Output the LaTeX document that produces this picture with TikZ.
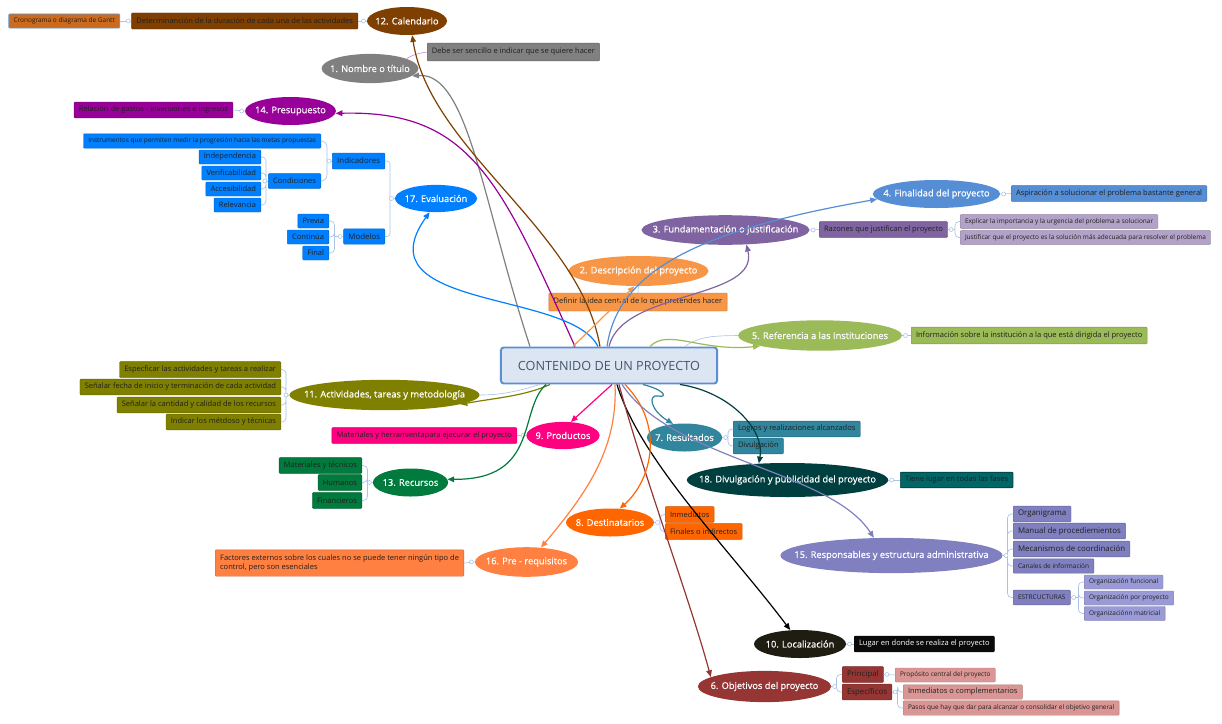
\documentclass[tikz,border=0pt]{standalone}
\usepackage{fontspec}
\setmainfont{Open Sans}
\newfontfamily\topicfam[FakeBold=0.5]{Open Sans}
\usetikzlibrary{positioning,shapes,arrows.meta,calc}

\definecolor{colCal}{HTML}{7F3F00}
\definecolor{colGantt}{HTML}{CC6A1E}
\definecolor{colSel}{HTML}{5B9BD5}
\definecolor{colNom}{HTML}{808080}
\definecolor{colNomL}{HTML}{D68AD6}
\definecolor{colPres}{HTML}{990099}
\definecolor{colEva}{HTML}{0080FF}
\definecolor{colFin}{HTML}{558ED5}
\definecolor{colFun}{HTML}{8064A2}
\definecolor{colFunL}{HTML}{B3A2C7}
\definecolor{colDes}{HTML}{F79646}
\definecolor{colRef}{HTML}{9BBB59}
\definecolor{colAct}{HTML}{808000}
\definecolor{colPro}{HTML}{FF0080}
\definecolor{colRes}{HTML}{31859C}
\definecolor{colDiv}{HTML}{003F3F}
\definecolor{colDivL}{HTML}{006666}
\definecolor{colRec}{HTML}{007A3D}
\definecolor{colDst}{HTML}{FF6600}
\definecolor{colPre}{HTML}{FF8040}
\definecolor{colRsp}{HTML}{8080C0}
\definecolor{colRspL}{HTML}{9A9AD6}
\definecolor{colLoc}{HTML}{1F1C12}
\definecolor{colLug}{HTML}{0A0A0A}
\definecolor{colObj}{HTML}{963634}
\definecolor{colObjL}{HTML}{DA9694}
\definecolor{colMain}{HTML}{DCE6F2}
\definecolor{colMainB}{HTML}{5B8ED3}
\definecolor{colMainT}{HTML}{44546A}
\definecolor{colLink}{HTML}{A9C4E6}
\definecolor{colText}{HTML}{202020}

\newcommand{\fntmain}{\fontsize{9}{10.5}\selectfont}
\newcommand{\fnttopic}{\topicfam\fontsize{6.6}{7.5}\selectfont}
\newcommand{\fntmid}{\fontsize{5.6}{6.5}\selectfont}
\newcommand{\fntsmall}{\fontsize{5.35}{6.6}\selectfont}
\newcommand{\fnttiny}{\fontsize{4.6}{5.4}\selectfont}
% topic text kept out of the ellipse size
\newcommand{\tp}[1]{\makebox[0pt]{#1}}

% collapse knobs beside a parent
\newcommand{\knobR}[1]{\draw[knob] ([xshift=0.08cm]#1.east) circle (0.05cm);}
\newcommand{\knobL}[1]{\draw[knob] ([xshift=-0.08cm]#1.west) circle (0.05cm);}

\tikzset{
  topic/.style 2 args={ellipse, fill=#1, text=white, font=\fnttopic, inner sep=0pt, minimum width=#2, minimum height=0.7cm},
  leaf/.style={rectangle, rounded corners=0.6pt, fill=#1, draw=#1!80!black, line width=0.3pt, text=colText, font=\fntsmall, inner xsep=3.4pt, inner ysep=0pt, minimum height=0.39cm},
  link/.style={draw=colLink, line width=0.45pt},
  knob/.style={draw=colLink, fill=white, line width=0.4pt},
  branch/.style={line width=0.85pt, -{Triangle[length=0.17cm,width=0.14cm]}},
}

\begin{document}
\begin{tikzpicture}[x=0.025cm, y=-0.025cm]
    \useasboundingbox (0,0) rectangle (1222,723);
    \fill[white] (0,0) rectangle (1222,723);

    % Central topic
    \node (main) [draw=colMainB, line width=1.4pt, fill=colMain, rounded corners=2pt, text=colMainT, font=\fntmain, minimum width=5.4cm, minimum height=0.9cm] at (609,365.5) {CONTENIDO DE UN PROYECTO};

    % 12. Calendario
    \node (calendario) [topic={colCal}{2cm}] at (407,21) {\tp{12. Calendario}};
    \node (duracion) [leaf=colCal, anchor=east, minimum height=0.4cm] at (358,21) {Determinanción de la duración de cada una de las actividades};
    \node (gantt) [leaf=colGantt, draw=colSel, line width=0.6pt, anchor=east, font=\fnttiny, minimum height=0.35cm] at (120,21) {Cronograma o diagrama de Gantt};

    % 1. Nombre o titulo
    \node (nombre) [topic={colNom}{2.42cm}, minimum height=0.73cm] at (370,68.5) {\tp{1. Nombre o título}};
    \node (sencillo) [leaf=colNom, anchor=west, minimum height=0.44cm] at (427,52) {Debe ser sencillo e indicar que se quiere hacer};

    % 14. Presupuesto
    \node (presupuesto) [topic={colPres}{2.27cm}] at (290.5,111) {\tp{14. Presupuesto}};
    \node (gastos) [leaf=colPres, anchor=east] at (233,110) {Relación de gastos - inversiones e ingresos};

    % 17. Evaluacion
    \node (evaluacion) [topic={colEva}{2.05cm}, minimum height=0.68cm] at (436,198.5) {\tp{17. Evaluación}};
    \node (indicadores) [leaf=colEva, anchor=east, font=\fntmid, minimum height=0.4cm] at (385,161) {Indicadores};
    \node (instrumentos) [leaf=colEva, anchor=east, font=\fnttiny, minimum height=0.36cm] at (321,141) {Instrumentos que permiten medir la progresión hacia las metas propuestas};
    \node (condiciones) [leaf=colEva, anchor=east, minimum height=0.37cm] at (321,181) {Condiciones};
    \node (independencia) [leaf=colEva, anchor=east, minimum height=0.35cm] at (261,157) {Independencia};
    \node (verificabilidad) [leaf=colEva, anchor=east, minimum height=0.35cm] at (261,173) {Verificabilidad};
    \node (accesibilidad) [leaf=colEva, anchor=east, minimum height=0.35cm] at (261,189) {Accesibilidad};
    \node (relevancia) [leaf=colEva, anchor=east, minimum height=0.35cm] at (261,205) {Relevancia};
    \node (modelos) [leaf=colEva, anchor=east, font=\fntmid, minimum height=0.38cm] at (385,236.5) {Modelos};
    \node (previa) [leaf=colEva, anchor=east, minimum height=0.35cm] at (329,221) {Previa};
    \node (continua) [leaf=colEva, anchor=east, minimum height=0.35cm] at (329,237) {Continúa};
    \node (final) [leaf=colEva, anchor=east, minimum height=0.35cm] at (329,253) {Final};

    % 4. Finalidad
    \node (finalidad) [topic={colFin}{3.18cm}] at (936.5,194) {\tp{4. Finalidad del proyecto}};
    \node (aspiracion) [leaf=colFin, anchor=west] at (1011,193.5) {Aspiración a solucionar el problema bastante general};

    % 3. Fundamentacion
    \node (fundamentacion) [topic={colFun}{4.2cm}, minimum height=0.74cm] at (725.5,230) {\tp{3. Fundamentación o justificación}};
    \node (razones) [leaf=colFun, anchor=west] at (819,229.5) {Razones que justifican el proyecto};
    \node (importancia) [leaf=colFunL, anchor=west, font=\fnttiny, minimum height=0.34cm] at (960,221.5) {Explicar la importancia y la urgencia del problema a solucionar};
    \node (adecuada) [leaf=colFunL, anchor=west, font=\fnttiny, minimum height=0.34cm] at (960,237.5) {Justificar que el proyecto es la solución más adecuada para resolver el problema};

    % 2. Descripcion
    \node (descripcion) [topic={colDes}{3.5cm}, minimum height=0.75cm] at (638.5,271) {\tp{2. Descripción del proyecto}};
    \node (idea) [leaf=colDes, minimum height=0.45cm] at (638,302) {Definir la idea central de lo que pretendes hacer};

    % 5. Referencia
    \node (referencia) [topic={colRef}{4.1cm}, minimum height=0.76cm] at (820,335.5) {\tp{5. Referencia a las Instituciones}};
    \node (institucion) [leaf=colRef, anchor=west, minimum height=0.42cm] at (911,335.5) {Información sobre la institución a la que está dirigida el proyecto};

    % 11. Actividades
    \node (actividades) [topic={colAct}{4.75cm}, minimum height=0.76cm] at (384.5,395) {\tp{11. Actividades, tareas y metodología}};
    \node (especificar) [leaf=colAct, anchor=east] at (281,369.5) {Especficar las actividades y tareas a realizar};
    \node (fecha) [leaf=colAct, anchor=east] at (281,387) {Señalar fecha de inicio y terminación de cada actividad};
    \node (cantidad) [leaf=colAct, anchor=east] at (281,405) {Señalar la cantidad y calidad de los recursos};
    \node (metodos) [leaf=colAct, anchor=east] at (281,422) {Indicar los métdoso y técnicas};

    % 9. Productos
    \node (productos) [topic={colPro}{1.83cm}, minimum height=0.68cm] at (563,435.5) {\tp{9. Productos}};
    \node (materiales) [leaf=colPro, anchor=east] at (517,435.5) {Materiales y herramientapara ejecurar el proyecto};

    % 7. Resultados
    \node (resultados) [topic={colRes}{1.88cm}] at (684.5,437.5) {\tp{7. Resultados}};
    \node (logros) [leaf=colRes, anchor=west] at (733,429) {Logros y realizaciones alcanzados};
    \node (difusion) [leaf=colRes, anchor=west] at (733,446) {Divulgación};

    % 18. Divulgacion
    \node (divulgacion) [topic={colDiv}{5.03cm}, minimum height=0.85cm] at (787.5,480) {\tp{18. Divulgación y publicidad del proyecto}};
    \node (fases) [leaf=colDivL, draw=colDiv, line width=0.5pt, anchor=west] at (900,480) {Tiene lugar en todas las fases};

    % 13. Recursos
    \node (recursos) [topic={colRec}{1.88cm}] at (410.5,482.5) {\tp{13. Recursos}};
    \node (tecnicos) [leaf=colRec, anchor=east] at (362,465.5) {Materiales y técnicos};
    \node (humanos) [leaf=colRec, anchor=east] at (362,482.5) {Humanos};
    \node (financieros) [leaf=colRec, anchor=east] at (362,500.5) {Financieros};

    % 8. Destinatarios
    \node (destinatarios) [topic={colDst}{2.2cm}] at (610,522.5) {\tp{8. Destinatarios}};
    \node (inmediatos) [leaf=colDst, anchor=west] at (665,514.5) {Inmediatos};
    \node (finales) [leaf=colDst, anchor=west] at (665,531.5) {Finales o indirectos};

    % 16. Pre - requisitos
    \node (prerequisitos) [topic={colPre}{2.58cm}, minimum height=0.74cm] at (526.5,562) {\tp{16. Pre - requisitos}};
    \node (factores) [leaf=colPre, anchor=east, align=left, minimum height=0.66cm] at (464,563) {Factores externos sobre los cuales no se puede tener ningún tipo de\\control, pero son esenciales};

    % 15. Responsables
    \node (responsables) [topic={colRsp}{5.55cm}, minimum height=0.88cm] at (891.5,555.5) {\tp{15. Responsables y estructura administrativa}};
    \node (organigrama) [leaf=colRsp, anchor=west, font=\fntmid] at (1013,514) {Organigrama};
    \node (manual) [leaf=colRsp, anchor=west, font=\fntmid] at (1013,531) {Manual de procediemientos};
    \node (mecanismos) [leaf=colRsp, anchor=west, font=\fntmid] at (1013,549) {Mecanismos de coordinación};
    \node (canales) [leaf=colRsp, anchor=west, font=\fnttiny, minimum height=0.36cm] at (1013,566) {Canales de información};
    \node (estructuras) [leaf=colRsp, anchor=west, font=\fnttiny, minimum height=0.37cm] at (1013,597.5) {ESTRCUCTURAS};
    \node (orgfun) [leaf=colRspL, anchor=west, font=\fnttiny, minimum height=0.35cm] at (1084,582) {Organización funcional};
    \node (orgpro) [leaf=colRspL, anchor=west, font=\fnttiny, minimum height=0.35cm] at (1084,598) {Organización por proyecto};
    \node (orgmat) [leaf=colRspL, anchor=west, font=\fnttiny, minimum height=0.35cm] at (1084,613.5) {Organizaciónn matricial};

    % 10. Localizacion
    \node (localizacion) [topic={colLoc}{2.3cm}] at (800,644) {\tp{10. Localización}};
    \node (lugar) [leaf=colLug, text=white, anchor=west] at (854,644) {Lugar en donde se realiza el proyecto};

    % 6. Objetivos
    \node (objetivos) [topic={colObj}{3.33cm}, minimum height=0.78cm] at (764.5,686.5) {\tp{6. Objetivos del proyecto}};
    \node (principal) [leaf=colObj, anchor=west, font=\fntmid] at (842,674.5) {Principal};
    \node (especificos) [leaf=colObj, anchor=west, font=\fntmid] at (842,692) {Específicos};
    \node (proposito) [leaf=colObjL, anchor=west, font=\fnttiny, minimum height=0.35cm] at (895,675) {Propósito central del proyecto};
    \node (complementarios) [leaf=colObjL, anchor=west, minimum height=0.36cm] at (903,692) {Inmediatos o complementarios};
    \node (pasos) [leaf=colObjL, anchor=west, font=\fnttiny, minimum height=0.36cm] at (903,708) {Pasos que hay que dar para alcanzar o consolidar el objetivo general};

    % Junctions of the child links
    \coordinate (evaJ) at (390,198.5);
    \coordinate (indJ) at (327,161);
    \coordinate (conJ) at (266,181);
    \coordinate (modJ) at (334.5,236.5);
    \coordinate (razJ) at (955,229.5);
    \coordinate (actJ) at (286,395);
    \coordinate (resJ) at (728,437.5);
    \coordinate (recJ) at (367.5,482.5);
    \coordinate (dstJ) at (660,522.5);
    \coordinate (rspJ) at (1007.5,555.5);
    \coordinate (estJ) at (1078.5,597.5);
    \coordinate (objJ) at (836.5,686.5);
    \coordinate (espJ) at (897.5,692);

    % Child links
    \draw[link] (calendario.west) -- (duracion.east);
    \draw[link] (duracion.west) -- (gantt.east);
    \draw[link, draw=colNomL] (nombre.15) .. controls (415,54) .. (sencillo.west);
    \draw[link] (presupuesto.west) -- (gastos.east);
    \draw[link] (evaluacion.west) -- (evaJ);
    \draw[link, rounded corners=0.08cm] (indicadores.east) -| (evaJ) |- (modelos.east);
    \draw[link] (indicadores.west) -- (indJ);
    \draw[link, rounded corners=0.15cm] (indJ) |- (instrumentos.east) (indJ) |- (condiciones.east);
    \draw[link] (condiciones.west) -- (conJ);
    \draw[link, rounded corners=0.1cm] (conJ) |- (independencia.east) (conJ) |- (verificabilidad.east) (conJ) |- (accesibilidad.east) (conJ) |- (relevancia.east);
    \draw[link] (modelos.west) -- (modJ);
    \draw[link, rounded corners=0.1cm] (modJ) |- (previa.east) (modJ) |- (continua.east) (modJ) |- (final.east);
    \draw[link] (finalidad.east) -- (aspiracion.west);
    \draw[link] (fundamentacion.east) -- (razones.west);
    \draw[link] (razones.east) -- (razJ);
    \draw[link, rounded corners=0.1cm] (razJ) |- (importancia.west) (razJ) |- (adecuada.west);
    \draw[link] (descripcion.south) -- (idea.north);
    \draw[link] (referencia.east) -- (institucion.west);
    \draw[link] ($(main.north west)+(185,0)$) .. controls (700,335) and (720,336) .. (referencia.west);
    \draw[link] (actividades.west) -- (actJ);
    \draw[link, rounded corners=0.1cm] (actJ) |- (especificar.east) (actJ) |- (fecha.east) (actJ) |- (cantidad.east) (actJ) |- (metodos.east);
    \draw[link] ($(main.south west)+(40,0)$) .. controls (515,392) and (500,395) .. (actividades.east);
    \draw[link] (productos.west) -- (materiales.east);
    \draw[link] (resultados.east) -- (resJ);
    \draw[link, rounded corners=0.1cm] (resJ) |- (logros.west) (resJ) |- (difusion.west);
    \draw[link] (divulgacion.east) -- (fases.west);
    \draw[link] (recursos.west) -- (recJ);
    \draw[link, rounded corners=0.1cm] (recJ) |- (tecnicos.east) (recJ) |- (humanos.east) (recJ) |- (financieros.east);
    \draw[link] (destinatarios.east) -- (dstJ);
    \draw[link, rounded corners=0.1cm] (dstJ) |- (inmediatos.west) (dstJ) |- (finales.west);
    \draw[link] (prerequisitos.west) -- (factores.east);
    \draw[link] (responsables.east) -- (rspJ);
    \draw[link, rounded corners=0.1cm] (rspJ) |- (organigrama.west) (rspJ) |- (manual.west) (rspJ) |- (mecanismos.west) (rspJ) |- (canales.west) (rspJ) |- (estructuras.west);
    \draw[link] (estructuras.east) -- (estJ);
    \draw[link, rounded corners=0.1cm] (estJ) |- (orgfun.west) (estJ) |- (orgpro.west) (estJ) |- (orgmat.west);
    \draw[link] (localizacion.east) -- (lugar.west);
    \draw[link] (objetivos.east) -- (objJ);
    \draw[link, rounded corners=0.1cm] (objJ) |- (principal.west) (objJ) |- (especificos.west);
    \draw[link] (principal.east) -- (proposito.west);
    \draw[link] (especificos.east) -- (espJ);
    \draw[link, rounded corners=0.1cm] (espJ) |- (complementarios.west) (espJ) |- (pasos.west);

    % Knobs
    \knobL{calendario} \knobL{duracion} \knobL{presupuesto}
    \knobL{evaluacion} \knobL{indicadores} \knobL{condiciones} \knobL{modelos}
    \knobR{finalidad} \knobR{fundamentacion} \knobR{razones} \knobR{referencia}
    \knobL{actividades} \knobL{productos} \knobR{resultados} \knobR{divulgacion}
    \knobL{recursos} \knobR{destinatarios} \knobL{prerequisitos}
    \knobR{responsables} \knobR{estructuras} \knobR{localizacion}
    \knobR{objetivos} \knobR{principal} \knobR{especificos}

    % Branches leaving the central topic, upwards
    \draw[branch, draw=colNom] ($(main.north west)+(30,0)$) .. controls (482,200) and (468,72) .. (nombre.-10);
    \draw[branch, draw=colCal] ($(main.north west)+(100,0)$) .. controls (580,230) and (430,150) .. (calendario.-70);
    \draw[branch, draw=colPres] ($(main.north west)+(75,0)$) .. controls (500,180) and (470,110) .. (presupuesto.-3);
    \draw[branch, draw=colEva] ($(main.north west)+(98,0)$) .. controls (570,290) and (360,310) .. (evaluacion.-115);
    \draw[branch, draw=colDes] ($(main.north west)+(73,0)$) -- (descripcion.-105);
    \draw[branch, draw=colFin] ($(main.north west)+(107,0)$) .. controls (618,270) and (700,230) .. (finalidad.185);
    \draw[branch, draw=colFun] ($(main.north west)+(109,0)$) .. controls (622,290) and (760,300) .. (fundamentacion.-35);
    \draw[branch, draw=colRef] ($(main.north west)+(150,0)$) .. controls (668,328) and (700,352) .. (referencia.190);

    % Branches leaving the central topic, downwards
    \draw[branch, draw=colAct] ($(main.south west)+(50,0)$) .. controls (525,396) and (495,398) .. (actividades.-7);
    \draw[branch, draw=colRec] ($(main.south west)+(46,0)$) .. controls (518,410) and (540,480) .. (recursos.5);
    \draw[branch, draw=colPro] ($(main.south west)+(112,0)$) -- (productos.60);
    \draw[branch, draw=colPre] ($(main.south west)+(115,0)$) .. controls (618,450) and (585,495) .. (prerequisitos.45);
    \draw[branch, draw=black] ($(main.south west)+(117,0)$) .. controls (640,460) and (730,550) .. (localizacion.125);
    \draw[branch, draw=colObj] ($(main.south west)+(119,0)$) .. controls (645,480) and (690,600) .. (objetivos.170);
    \draw[branch, draw=colDst] ($(main.south west)+(125,0)$) .. controls (665,425) and (652,480) .. (destinatarios.55);
    \draw[branch, draw=colRsp] ($(main.south west)+(122,0)$) .. controls (672,460) and (830,470) .. (responsables.135);
    \draw[branch, draw=colRes] ($(main.south west)+(143,0)$) .. controls (665,390) and (668,398) .. (658,396) .. controls (648,394) and (650,410) .. (resultados.130);
    \draw[branch, draw=colDiv] ($(main.south west)+(180,0)$) .. controls (730,392) and (765,430) .. (divulgacion.150);
\end{tikzpicture}
\end{document}
